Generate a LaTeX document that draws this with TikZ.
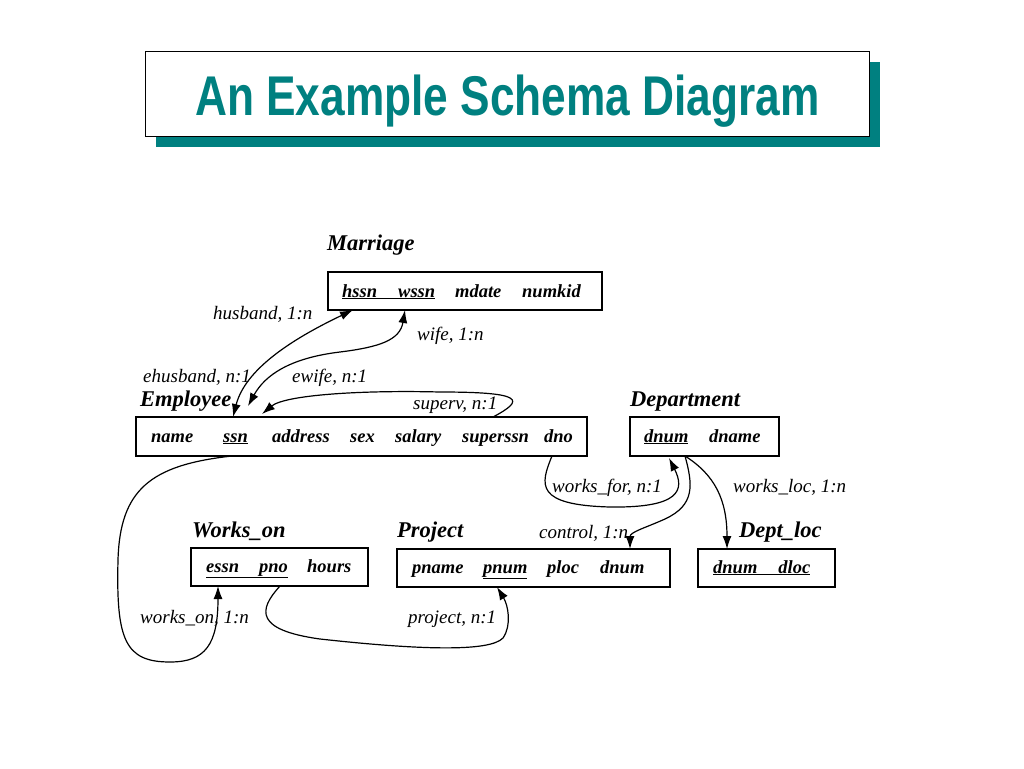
\documentclass[tikz,border=0pt]{standalone}
\usepackage{fontspec}
\usepackage{graphicx}
\setmainfont{Liberation Serif}
\newfontfamily\titlefont{Liberation Sans}
\usetikzlibrary{arrows.meta,calc,shadows}
\definecolor{schemateal}{RGB}{0,128,128}
\tikzset{
  relbox/.style={draw, rectangle, line width=1.2pt, anchor=north west, inner sep=0pt, outer sep=0pt, minimum height=38},
  relname/.style={font=\fontsize{22.5}{24}\selectfont\bfseries\itshape, inner sep=0pt, anchor=base west},
  attr/.style={font=\fontsize{18.5}{20}\selectfont\bfseries\itshape, inner sep=0pt, anchor=base west},
  rolelabel/.style={font=\fontsize{19}{21}\selectfont\itshape, inner sep=0pt, anchor=base west},
  link/.style={line width=1.2pt, -{Latex[length=13pt,width=9pt]}},
  duallink/.style={line width=1.2pt, {Latex[length=13pt,width=9pt]}-{Latex[length=13pt,width=9pt]}}
}
\begin{document}
\begin{tikzpicture}[x=1pt, y=-1pt]
\useasboundingbox (0,0) rectangle (1024,768);

% Title
\node (titlebox) [draw, fill=white, line width=1pt, anchor=north west, inner sep=0pt,
  minimum width=724, minimum height=85, text height=43pt, text depth=0pt,
  drop shadow={shadow xshift=10pt, shadow yshift=-10pt, fill=schemateal, opacity=1},
  font=\titlefont\bfseries\fontsize{56}{60}\selectfont, text=schemateal] at (145,51)
  {\scalebox{0.79}[1]{An Example Schema Diagram}};

% Relations
\node (marriage) [relbox, minimum width=274] at (328,272) {};
\node (employee) [relbox, minimum width=451, minimum height=39] at (136,417) {};
\node (department) [relbox, minimum width=149, minimum height=39] at (630,417) {};
\node (workson) [relbox, minimum width=177] at (191,548) {};
\node (project) [relbox, minimum width=273] at (397,549) {};
\node (deptloc) [relbox, minimum width=137] at (698,549) {};

% Relation names
\node (marriage-name) [relname] at (327,250) {Marriage};
\node (employee-name) [relname] at (140,406) {Employee};
\node (department-name) [relname] at (630,406) {Department};
\node (workson-name) [relname] at (192,537) {Works\_on};
\node (project-name) [relname] at (397,537) {Project};
\node (deptloc-name) [relname] at (739,537) {Dept\_loc};

% Attributes
\node (m-key) [attr] at (342,297) {\underline{hssn\hspace{21pt}wssn}};
\node (m-mdate) [attr] at (455,297) {mdate};
\node (m-numkid) [attr] at (522,297) {numkid};

\node (e-name) [attr] at (151,442) {name};
\node (e-ssn) [attr] at (223,442) {\underline{ssn}};
\node (e-address) [attr] at (272,442) {address};
\node (e-sex) [attr] at (350,442) {sex};
\node (e-salary) [attr] at (395,442) {salary};
\node (e-superssn) [attr] at (462,442) {superssn};
\node (e-dno) [attr] at (544,442) {dno};

\node (d-dnum) [attr] at (644,442) {\underline{dnum}};
\node (d-dname) [attr] at (709,442) {dname};

\node (w-key) [attr] at (206,572) {\underline{essn\hspace{20pt}pno}};
\node (w-hours) [attr] at (307,572) {hours};

\node (p-pname) [attr] at (412,573) {pname};
\node (p-pnum) [attr] at (483,573) {\underline{pnum}};
\node (p-ploc) [attr] at (547,573) {ploc};
\node (p-dnum) [attr] at (600,573) {dnum};

\node (l-key) [attr] at (713,573) {\underline{dnum\hspace{21pt}dloc}};

% Labels
\node (lbl-husband) [rolelabel] at (213,319) {husband, 1:n};
\node (lbl-wife) [rolelabel] at (417,340) {wife, 1:n};
\node (lbl-ehusband) [rolelabel] at (143,382) {ehusband, n:1};
\node (lbl-ewife) [rolelabel] at (292,382) {ewife, n:1};
\node (lbl-superv) [rolelabel] at (413,409) {superv, n:1};
\node (lbl-worksfor) [rolelabel] at (552,492) {works\_for, n:1};
\node (lbl-worksloc) [rolelabel] at (733,492) {works\_loc, 1:n};
\node (lbl-control) [rolelabel] at (539,538) {control, 1:n};
\node (lbl-workson) [rolelabel] at (140,623) {works\_on, 1:n};
\node (lbl-project) [rolelabel] at (408,623) {project, n:1};

% Arrows
\draw[duallink] ($(employee.north west)+(97,0)$) .. controls +(12,-47) and +(-63,30) .. ($(marriage.south west)+(25,0)$);
\draw[duallink] ($(employee.north west)+(112,-11)$) .. controls (265,375) and (290,358) .. (340,352)
  .. controls (380,347) and (400,340) .. ($(marriage.south west)+(77,0)$);
\draw[link] ($(employee.north west)+(357,0)$) .. controls (525,400) and (525,392) .. (440,392)
  .. controls (360,390) and (285,395) .. ($(employee.north west)+(126,-3)$);
\draw[link] ($(employee.south west)+(416,0)$) .. controls (540,485) and (535,505) .. (610,507)
  .. controls (680,508) and (685,490) .. ($(department.south west)+(39,2)$);
\draw[link] ($(department.south west)+(55,0)$) .. controls (693,485) and (695,505) .. (665,519)
  .. controls (645,528) and (630,532) .. ($(project.north west)+(233,0)$);
\draw[link] ($(department.south west)+(55,0)$) .. controls (715,475) and (727,500) .. ($(deptloc.north west)+(29,0)$);
\draw[link] ($(employee.south west)+(96,0)$) .. controls (150,465) and (120,490) .. (118,560)
  .. controls (116,640) and (125,662) .. (170,662)
  .. controls (205,662) and (218,645) .. ($(workson.south west)+(27,0)$);
\draw[link] ($(workson.south west)+(89,0)$) .. controls (258,610) and (255,630) .. (320,639)
  .. controls (420,650) and (490,652) .. (503,638)
  .. controls (512,625) and (508,605) .. ($(project.south west)+(100,0)$);
\end{tikzpicture}
\end{document}
